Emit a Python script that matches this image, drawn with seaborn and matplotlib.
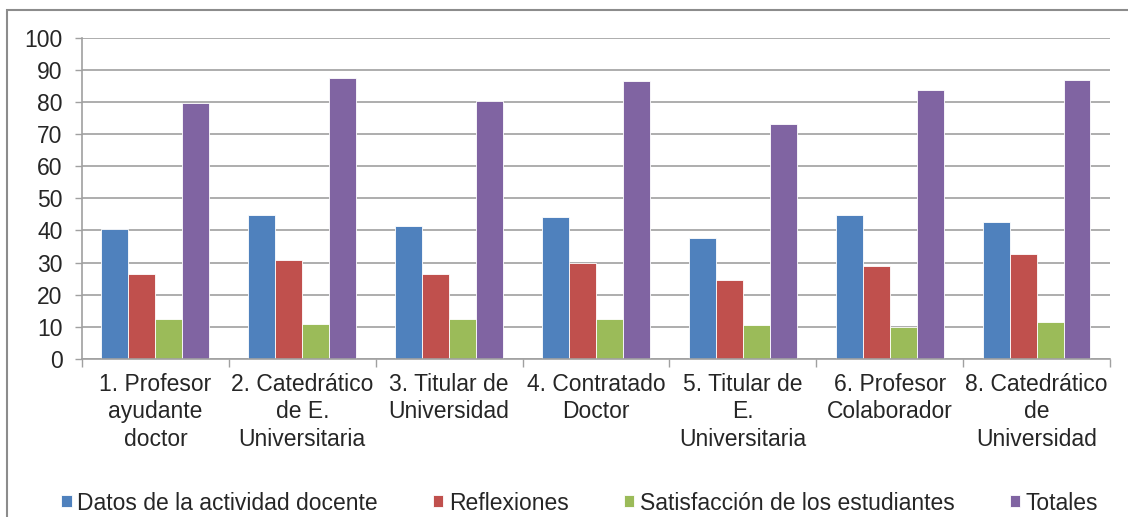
import matplotlib
matplotlib.use("Agg")
import matplotlib.pyplot as plt
import pandas as pd
import seaborn as sns
from matplotlib.patches import Rectangle

categories = [
    "1. Profesor\nayudante\ndoctor",
    "2. Catedrático\nde E.\nUniversitaria",
    "3. Titular de\nUniversidad",
    "4. Contratado\nDoctor",
    "5. Titular de\nE.\nUniversitaria",
    "6. Profesor\nColaborador",
    "8. Catedrático\nde\nUniversidad",
]
series = ["Datos de la actividad docente", "Reflexiones",
          "Satisfacción de los estudiantes", "Totales"]
datos = [40.4, 44.9, 41.5, 44.1, 37.7, 44.9, 42.7]
reflexiones = [26.6, 30.8, 26.6, 29.8, 24.7, 28.8, 32.7]
satisfaccion = [12.3, 10.9, 12.3, 12.3, 10.5, 10.1, 11.6]
totales = [79.6, 87.6, 80.2, 86.4, 73.3, 83.7, 87.0]
colors = ["#4F81BD", "#C0504D", "#9BBB59", "#8064A2"]

rows = []
for name, vals in zip(series, [datos, reflexiones, satisfaccion, totales]):
    for cat, v in zip(categories, vals):
        rows.append({"categoria": cat, "serie": name, "valor": v})
df = pd.DataFrame(rows)

sns.set_theme(style="white")
plt.rcParams["font.family"] = ["Liberation Sans", "DejaVu Sans"]

fig = plt.figure(figsize=(11.28, 5.17), dpi=100)
ax = fig.add_axes([0.0727, 0.3056, 0.9113, 0.6214])

sns.barplot(data=df, x="categoria", y="valor", hue="serie", palette=colors,
            saturation=1, width=0.735, gap=0, edgecolor="white",
            linewidth=0.6, ax=ax)

ax.set_ylim(0, 100)
ax.set_xlim(-0.5, len(categories) - 0.5)
ax.set_yticks(range(0, 101, 10))
ax.yaxis.grid(True, color="#a0a0a0", linewidth=1.2)
ax.set_axisbelow(True)
ax.set_xlabel("")
ax.set_ylabel("")

for side in ["top", "right"]:
    ax.spines[side].set_visible(False)
for side in ["left", "bottom"]:
    ax.spines[side].set_color("#a0a0a0")
    ax.spines[side].set_linewidth(1.2)

ax.tick_params(axis="y", length=5, width=1, color="#a0a0a0", pad=9,
               labelsize=16.5, left=True)
ax.tick_params(axis="x", which="major", length=0, pad=10, labelsize=16.5)
ax.set_xticks([i - 0.5 for i in range(len(categories) + 1)], minor=True)
ax.tick_params(axis="x", which="minor", length=6, width=1, color="#a0a0a0",
               bottom=True)
for lab in ax.get_xticklabels():
    lab.set_multialignment("center")
    lab.set_linespacing(1.25)

handles, labels = ax.get_legend_handles_labels()
ax.legend_.remove()
fig.legend(handles, labels, loc="center", bbox_to_anchor=(0.514, 1 - 503 / 517),
           ncol=4, frameon=False, fontsize=16.5, handlelength=0.45,
           handleheight=0.45, handletextpad=0.25, columnspacing=2.4,
           borderpad=0)

fig.patches.append(Rectangle((7 / 1128, -0.1), 1.2, 1 - 10 / 517 + 0.1,
                             transform=fig.transFigure, fill=False,
                             edgecolor="#8c8c8c", linewidth=1.5))

fig.savefig("out.png", dpi=100)
